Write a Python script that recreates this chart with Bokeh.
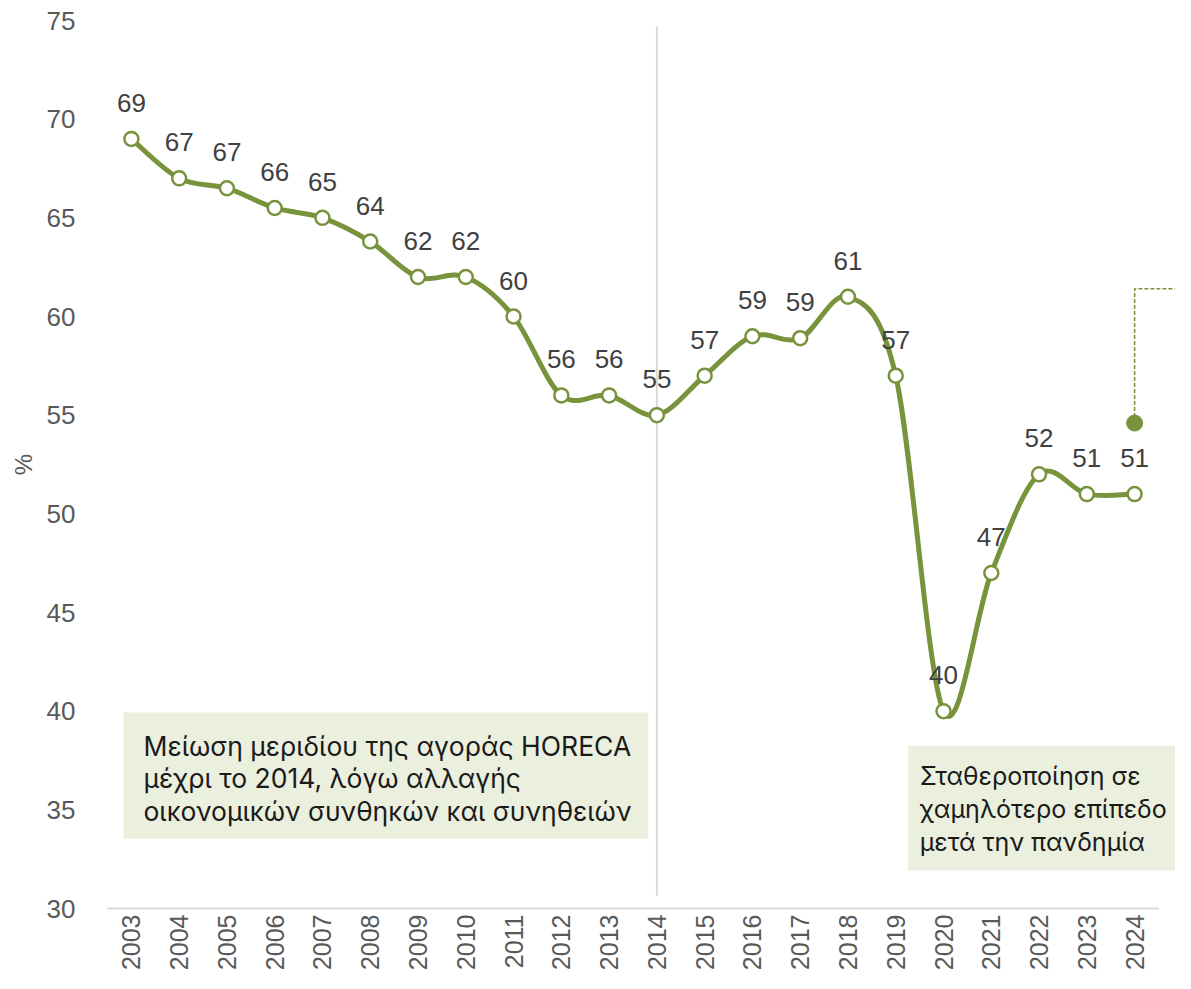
import numpy as np
from bokeh.plotting import figure
from bokeh.models import FixedTicker, Range1d, BoxAnnotation, Label, ColumnDataSource
from bokeh.core.properties import value
from bokeh.embed import file_html
from bokeh.resources import INLINE

# ---------------- data ----------------
years = [str(y) for y in range(2003, 2025)]
share = [69, 67, 66.5, 65.5, 65, 63.8, 62, 62, 60, 56, 56, 55,
         57, 59, 58.9, 61, 57, 40, 47, 52, 51, 51]
highlight_value = 54.6      # filled point above 2024
callout_level = 61.4        # level of dashed callout line
y_ticks = [30, 35, 40, 45, 50, 55, 60, 65, 70, 75]
divider_year = "2014"
note_left = ["Μείωση μεριδίου της αγοράς HORECA",
             "μέχρι το 2014, λόγω αλλαγής",
             "οικονομικών συνθηκών και συνηθειών"]
note_right = ["Σταθεροποίηση σε",
              "χαμηλότερο επίπεδο",
              "μετά την πανδημία"]
y_label = "%"

# ---------------- style ----------------
GREEN = "#77933C"
BOXFILL = "#EBF0DE"
GRID = "#D9D9D9"
TICKC = "#595959"
LABELC = "#404040"
NUM_FONT = "Liberation Sans"
NOTE_FONT = "Inter"
X_END = 21.856

xs = np.arange(len(years), dtype=float)
ys = np.array(share, dtype=float)
labels = [str(int(np.floor(v + 0.5))) for v in share]

p = figure(width=1175, height=973, output_backend="svg", toolbar_location=None,
           x_range=Range1d(-0.5, X_END), y_range=Range1d(30, 75),
           min_border_left=107, min_border_right=0, min_border_top=20,
           min_border_bottom=65)
p.outline_line_color = None
p.grid.visible = False
p.background_fill_color = "white"

# axes
p.xaxis.ticker = FixedTicker(ticks=list(range(len(years))))
p.xaxis.major_label_overrides = {i: y for i, y in enumerate(years)}
p.xaxis.major_label_orientation = np.pi / 2
p.xaxis.major_label_text_font = NUM_FONT
p.xaxis.major_label_text_font_size = "25px"
p.xaxis.major_label_text_color = TICKC
p.xaxis.major_label_standoff = 0
p.xaxis.major_tick_line_color = None
p.xaxis.minor_tick_line_color = None
p.xaxis.axis_line_color = GRID
p.xaxis.axis_line_width = 2
p.xaxis.bounds = (-0.5, len(years) - 0.5)

p.yaxis.ticker = FixedTicker(ticks=y_ticks)
p.yaxis.major_label_text_font = NUM_FONT
p.yaxis.major_label_text_font_size = "26px"
p.yaxis.major_label_text_color = TICKC
p.yaxis.major_label_standoff = 26
p.yaxis.major_tick_line_color = None
p.yaxis.minor_tick_line_color = None
p.yaxis.axis_line_color = None
p.yaxis.axis_label = y_label
p.yaxis.axis_label_text_font = NUM_FONT
p.yaxis.axis_label_text_font_style = "normal"
p.yaxis.axis_label_text_font_size = "24px"
p.yaxis.axis_label_text_color = TICKC
p.yaxis.axis_label_standoff = 7

# divider line at 2014
dx = years.index(divider_year)
p.segment(x0=[dx], y0=[74.7], x1=[dx], y1=[30.65], line_color=GRID, line_width=2)

# smoothed line (Catmull-Rom -> cubic Bezier, Excel-like smoothing)
P = np.column_stack([xs, ys])
Pext = np.vstack([P[0], P, P[-1]])
prev = Pext[0:-3]
nxt = Pext[3:]
cp0 = P[:-1] + (P[1:] - prev) / 6.0
cp1 = P[1:] - (nxt - P[:-1]) / 6.0
p.bezier(x0=P[:-1, 0], y0=P[:-1, 1], x1=P[1:, 0], y1=P[1:, 1],
         cx0=cp0[:, 0], cy0=cp0[:, 1], cx1=cp1[:, 0], cy1=cp1[:, 1],
         line_color=GREEN, line_width=5)

src = ColumnDataSource(dict(x=xs, y=ys, lab=labels))
p.scatter("x", "y", source=src, size=14, marker="circle", fill_color="white",
          line_color=GREEN, line_width=2.5)
p.text("x", "y", text="lab", source=src, y_offset=-36, text_align="center",
       text_baseline="middle", text_font=value(NUM_FONT), text_font_size="26px",
       text_color=LABELC)

# highlight point and dashed callout
hx = len(years) - 1
p.line(x=[hx, hx, X_END], y=[highlight_value, callout_level, callout_level],
       line_color=GREEN, line_width=1.5, line_dash="4 2")
p.scatter(x=[hx], y=[highlight_value], size=16, marker="circle",
          fill_color=GREEN, line_color=GREEN)

# annotation boxes
p.add_layout(BoxAnnotation(left=-0.165, right=10.82, top=39.93, bottom=33.54,
                           fill_color=BOXFILL, fill_alpha=1, line_color=None,
                           level="underlay"))
p.add_layout(BoxAnnotation(left=16.26, right=X_END, top=38.25, bottom=31.92,
                           fill_color=BOXFILL, fill_alpha=1, line_color=None,
                           level="underlay"))

for i, t in enumerate(note_left):
    p.add_layout(Label(x=0.253, y=38.26 - i * 1.672, text=t, text_font=NOTE_FONT,
                       text_font_size="26.5px", text_color="#1A1A1A",
                       text_baseline="middle", text_align="left"))
for i, t in enumerate(note_right):
    p.add_layout(Label(x=16.5, y=36.69 - i * 1.672, text=t, text_font=NOTE_FONT,
                       text_font_size="25px", text_color="#1A1A1A",
                       text_baseline="middle", text_align="left"))

open("out.html", "w").write(file_html(p, INLINE))
